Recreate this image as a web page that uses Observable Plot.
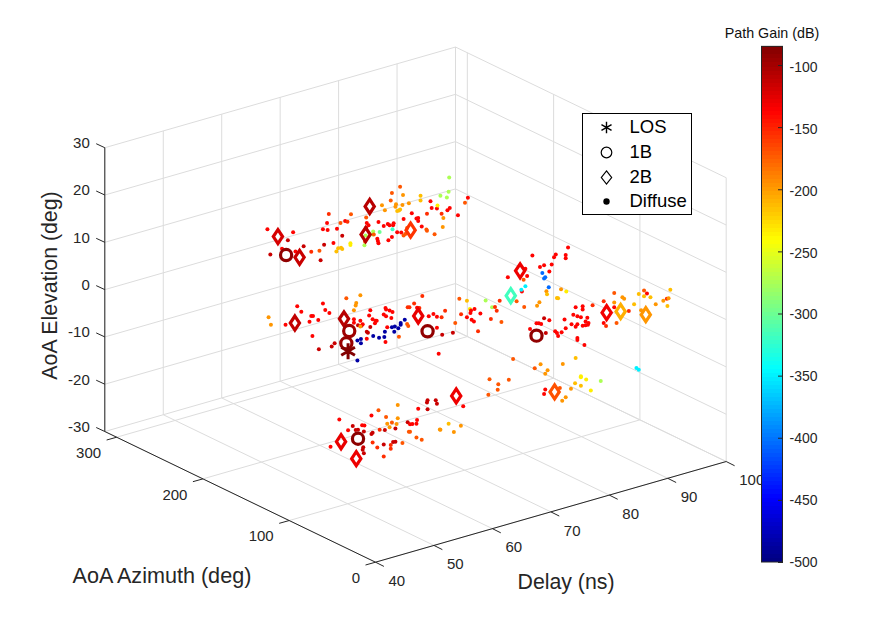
<!DOCTYPE html>
<html>
<head>
<meta charset="utf-8">
<script src="https://cdn.jsdelivr.net/npm/d3@7"></script>
<script src="https://cdn.jsdelivr.net/npm/@observablehq/plot@0.6"></script>
<style>html,body{margin:0;padding:0;background:#fff}svg{display:block}</style>
</head>
<body>
<div id="chart"></div>
<script>
// gain levels (dB)
const D=-115,R=-138,P=-155,Q=-172,O=-198,H=-214,Y=-234,L=-275,G=-300,S=-320,C=-350,B=-405,N=-485;

// each row: delay (ns), elevation (deg), path gain (dB); azimuth estimated per group
const leftAzimuth = 130, rightAzimuth = 60;
const upperStrip = [[40.7,28.7,R],[45.1,26.5,R],[44.2,25.1,D],[41.2,23.2,D],[43.2,23.7,R],[46.9,22.9,D],[45.5,22.3,R],[48.2,21.3,P],[49.6,21.0,Q],[49.8,18.9,D],[50.4,22.0,D],[52.0,21.8,R],[53.5,22.8,D],[52.6,24.6,R],[50.9,26.4,R],[51.2,28.2,P],[50.2,25.3,R],[51.0,24.9,R],[53.2,25.6,Q],[54.0,25.7,R],[54.4,25.4,P],[55.0,26.8,Q],[52.5,19.8,H],[52.8,20.4,H],[53.3,20.3,H],[53.5,20.0,H],[54.9,20.7,Y],[54.9,20.3,Y],[57.6,25.2,Q],[57.7,24.0,R],[58.0,23.4,R],[59.7,23.5,R],[57.6,23.0,R],[57.3,19.4,L],[57.5,21.4,L],[58.8,21.8,L],[58.7,21.2,L],[59.9,21.3,G],[58.9,21.1,Q],[57.4,20.2,Q],[59.5,20.0,R],[59.6,19.5,R],[59.7,19.0,R],[61.4,19.0,R],[62.0,19.5,R],[60.6,22.3,R],[61.3,22.5,R],[62.2,21.9,R],[61.6,22.1,R],[62.3,22.3,R],[62.1,21.1,S],[62.9,20.2,R],[63.6,19.9,R],[64.0,22.6,R],[65.4,23.3,R],[66.2,21.9,R],[66.5,21.3,R],[66.5,21.9,R],[67.1,19.9,R],[68.0,22.3,P],[67.9,19.0,Q],[68.0,18.7,Q],[69.3,17.5,Q],[70.7,18.5,O],[70.8,20.4,O],[70.5,21.4,P],[69.7,22.8,R],[68.8,23.2,R],[68.6,24.7,R],[71.5,21.8,R],[71.9,22.1,R],[73.3,20.1,R],[74.5,22.3,Q],[75.0,23.2,R],[69.8,23.4,Y],[66.9,26.5,H],[66.9,25.5,H],[70.3,25.3,L],[71.4,24.5,L],[71.7,25.6,L],[71.8,28.6,L],[64.9,25.6,O],[63.8,25.6,O],[63.4,29.6,Q],[62.0,28.8,Q],[61.8,27.3,Q],[63.9,27.7,O],[60.3,26.8,O],[60.8,25.6,O],[62.7,26.2,O],[62.6,25.7,O],[63.2,24.7,H],[63.4,24.8,H],[62.9,24.7,H],[64.3,19.3,Q],[64.0,19.1,Q],[64.6,20.5,Q]];
const middleStrip = [[40.9,10.0,O],[41.3,8.3,O],[43.8,7.4,R],[45.8,10.6,R],[46.5,9.2,R],[48.2,7.7,R],[48.5,7.6,R],[47.9,6.6,R],[49.4,6.4,R],[50.2,9.6,R],[50.6,8.1,R],[51.3,7.2,R],[48.4,3.4,R],[49.5,0.2,D],[51.7,0.0,D],[52.2,0.5,D],[54.2,9.3,Q],[56.6,9.1,O],[55.9,7.7,O],[55.8,7.2,O],[55.5,6.3,O],[58.3,5.3,R],[58.1,4.3,R],[55.5,4.4,R],[56.6,3.7,R],[55.5,3.7,R],[56.2,2.9,D],[56.8,2.6,D],[57.0,2.8,R],[56.6,2.5,O],[57.7,1.0,D],[57.9,0.7,D],[58.3,1.8,D],[58.7,3.3,R],[59.2,2.8,R],[59.4,2.7,R],[59.1,2.3,R],[60.6,3.6,R],[61.0,3.1,R],[60.9,4.9,R],[61.0,4.5,R],[61.6,4.1,R],[62.1,3.6,R],[61.9,2.4,R],[61.2,0.7,R],[57.7,-0.5,R],[60.9,-2.3,R],[63.2,-2.0,Q],[64.6,0.2,Q],[64.8,-0.3,Q],[64.7,3.7,P],[65.0,3.6,P],[65.8,4.1,P],[66.3,3.0,R],[66.7,2.8,P],[67.2,5.2,P],[68.3,0.5,R],[69.1,0.7,R],[69.7,-0.1,R],[70.5,-0.5,P],[71.1,0.7,P],[69.7,-2.4,R],[70.6,-4.2,D],[70.0,-8.0,R],
[56.1,-0.3,N],[56.7,-0.2,N],[56.7,-1.1,N],[58.8,-0.3,N],[59.8,-1.0,N],[60.7,-1.2,N],[60.8,-0.1,N],[62.4,-0.7,N],[63.1,-0.2,N],[63.5,0.4,N],[63.5,0.8,N],[64.2,1.2,N],[62.5,0.4,N],[62.0,0.4,N],[56.1,-4.5,N]];
const lowerStrip = [[53.0,-15.9,R],[51.5,-21.1,R],[54.5,-18.7,R],[55.3,-18.1,D],[55.8,-19.1,D],[56.2,-19.2,D],[56.9,-18.5,R],[57.3,-18.7,R],[57.2,-19.9,D],[57.1,-23.2,D],[57.0,-23.7,D],[57.2,-24.5,D],[58.7,-20.7,D],[58.5,-20.9,D],[59.9,-20.5,P],[60.8,-20.9,D],[58.5,-17.0,R],[59.7,-16.3,Q],[61.0,-18.2,Q],[63.0,-16.4,O],[63.0,-19.2,O],[62.8,-20.3,O],[61.2,-19.7,O],[62.0,-19.7,Q],[61.6,-20.6,O],[62.6,-21.2,D],[58.7,-22.8,P],[59.5,-24.1,P],[60.6,-23.9,D],[61.8,-24.4,P],[61.8,-25.2,P],[62.2,-23.9,D],[62.6,-24.0,D],[63.8,-24.7,Q],[60.6,-26.4,P],[65.1,-22.8,Q],[64.9,-22.7,Q],[66.2,-24.4,Q],[67.1,-25.2,Q],[64.7,-20.6,D],[65.1,-21.2,R],[65.5,-21.3,R],[66.2,-21.5,R],[66.3,-20.7,R],[66.5,-18.4,R],[68.1,-19.1,D],[68.1,-17.2,D],[68.0,-17.6,D],[69.5,-17.7,D],[69.7,-18.5,D],[74.2,-20.6,R],[70.2,-24.1,O],[70.3,-24.2,O],[71.7,-23.4,H],[72.6,-25.5,O],[73.8,-24.6,O],[78.5,-19.7,Q],[80.1,-19.2,Q],[80.2,-18.1,Q],[78.7,-16.5,Q],[82.0,-17.8,Q]];
const rightStrip = [[67.7,10.2,L],[68.8,8.4,L],[65.0,9.4,Y],[70.1,9.3,P],[69.3,8.3,P],[69.6,7.4,P],[65.8,9.1,R],[65.2,9.0,R],[65.1,8.5,R],[63.2,12.2,Q],[64.5,11.3,H],[63.5,8.8,P],[64.5,7.8,R],[62.5,7.3,Q],[62.1,5.4,D],[66.8,7.8,R],[65.3,7.0,R],[65.7,6.5,R],[68.6,6.0,P],[70.4,4.7,Q],[66.4,4.2,P],[74.3,6.5,Q],[73.0,8.2,Q],[74.2,12.3,Q],[71.5,13.8,R],[75.7,16.9,R],[77.0,14.0,R],[77.7,14.1,R],[79.0,13.8,R],[78.6,12.5,R],[79.4,15.2,R],[79.7,15.7,R],[81.4,15.0,R],[81.4,14.3,R],[81.8,16.4,R],[74.5,14.5,R],[74.8,12.9,R],[73.9,9.9,R],[73.8,10.3,C],[74.5,10.8,C],[77.4,12.6,B],[77.7,11.3,B],[77.9,11.5,B],[78.5,9.2,B],[80.6,8.0,O],[81.5,7.2,Y],[78.1,8.5,O],[78.2,7.8,H],[76.9,6.6,O],[76.5,6.0,O],[79.9,6.4,H],[80.1,6.3,H],
[83.1,3.3,R],[84.3,3.1,R],[84.3,2.4,R],[82.7,1.9,R],[83.4,1.3,R],[84.0,0.9,R],[85.1,0.4,R],[81.2,1.4,R],[84.8,-0.3,R],[82.4,0.0,R],[83.1,-0.8,R],[83.4,-0.4,R],[84.3,-1.0,R],[84.8,-1.1,R],[85.2,-1.1,R],[85.3,-0.8,R],[81.4,-0.5,R],[80.7,-1.1,R],[79.6,-0.5,R],[79.9,-1.0,R],[80.1,-1.7,R],[83.4,-3.3,R],[83.4,-3.7,R],[84.6,-5.2,R],[75.3,1.5,R],[76.4,2.3,R],[76.8,2.2,R],[77.2,1.9,R],[77.7,2.9,D],[78.6,2.2,R],[78.0,-0.3,D],[86.0,2.7,P],[87.9,2.9,P],[89.7,2.0,O],[89.7,4.0,Q],[91.1,2.6,O],[91.4,2.2,O],[93.1,0.4,H],[92.2,-0.7,P],[93.9,2.3,H],[94.8,2.7,Q],[95.3,1.9,R],[94.8,1.5,H],[95.9,0.9,H],[96.8,-0.9,O],[98.1,-0.6,O],[98.7,-0.4,P],[99.0,-0.4,O],[98.8,-2.0,H],[99.3,1.3,H],[94.3,-1.3,O],[87.9,-1.7,R],[88.3,-2.5,P],[90.1,-2.5,Q],[89.7,1.0,R],
[72.4,-3.8,Q],[76.1,-7.1,Q],[77.1,-6.6,O],[78.3,-8.3,O],[77.9,-8.9,O],[80.9,-7.9,O],[83.1,-7.4,H],[84.0,-11.6,Y],[84.0,-11.8,Y],[84.9,-12.6,Y],[83.0,-12.7,H],[84.0,-13.6,H],[85.7,-15.2,Y],[87.4,-13.8,L],[93.5,-13.2,C],[93.9,-13.7,C],[77.9,-12.2,R],[77.7,-13.1,R],[82.3,-13.6,O],[80.4,-12.8,Q],[81.4,-15.1,O],[80.8,-15.6,O]];

// dominant paths: delay, azimuth, elevation, gain
const losPaths = [[54.5,130,-2.0,-86]];
const oneBouncePaths = [[43.9,130,22.1,-92],[54.7,130,2.2,-98],[54.2,130,-0.2,-95],[68.1,130,-2.6,-92],[56.2,130,-21.1,-90],[76.4,60,-0.3,-92]];
const twoBouncePaths = [[42.5,130,26.5,-120],[46.2,130,20.8,-115],[58.2,130,27.3,-108],[57.5,130,21.6,-108],[65.2,130,19.8,-158],[45.4,130,7.2,-112],[53.8,130,5.1,-108],[66.5,130,1.2,-128],[53.3,130,-20.7,-128],[55.9,130,-25.2,-130],[73.0,130,-18.0,-130],[73.6,60,14.4,-130],[72.0,60,9.7,-318],[88.4,60,0.3,-132],[90.8,60,-0.3,-208],[95.1,60,-2.5,-198],[79.5,60,-13.3,-170]];

const delayTicks = [40,50,60,70,80,90,100];
const azimuthTicks = [0,100,200,300];
const elevationTicks = [-30,-20,-10,0,10,20,30];
const gainTicks = [-100,-150,-200,-250,-300,-350,-400,-450,-500];
const legendItems = ["LOS","1B","2B","Diffuse"];

// view geometry of the 3-D box
const azMax = 313.7, gainMin = -500, gainMax = -85;
const project = (delay, az, el) => ({
  x: 375 + (delay - 40) * 5.845 - az * 0.8629,
  y: 561.7 - (delay - 40) * 1.678 - az * 0.4166 - (el + 30) * 4.73
});
const gainY = g => 65 + (-100 - g) * 1.2425;
const clamp = v => Math.max(0, Math.min(1, v));
const jet = t => `rgb(${Math.round(255*clamp(1.5-Math.abs(4*t-3)))},${Math.round(255*clamp(1.5-Math.abs(4*t-2)))},${Math.round(255*clamp(1.5-Math.abs(4*t-1)))})`;

// rhombus marker wider than the stock "diamond": r is its half height
const rhombus = ratio => ({
  draw(ctx, size) {
    const h = Math.sqrt(size / Math.PI), w = h * ratio;
    ctx.moveTo(0, -h); ctx.lineTo(w, 0); ctx.lineTo(0, h); ctx.lineTo(-w, 0); ctx.closePath();
  }
});

const diffuse = [
  ...upperStrip.map(r => [r[0], leftAzimuth, r[1], r[2]]),
  ...middleStrip.map(r => [r[0], leftAzimuth, r[1], r[2]]),
  ...lowerStrip.map(r => [r[0], leftAzimuth, r[1], r[2]]),
  ...rightStrip.map(r => [r[0], rightAzimuth, r[1], r[2]])
];
const px = r => project(r[0], r[1], r[2]).x;
const py = r => project(r[0], r[1], r[2]).y;

// grid segments as pairs of 3-D ends
const seg = (a, b) => ({a, b});
const azGridTicks = [...azimuthTicks, azMax];
const grid = [
  ...elevationTicks.map(e => seg([40,azMax,e],[100,azMax,e])),
  ...elevationTicks.map(e => seg([100,0,e],[100,azMax,e])),
  ...delayTicks.map(d => seg([d,azMax,-30],[d,azMax,30])),
  ...azGridTicks.map(a => seg([100,a,-30],[100,a,30])),
  ...azimuthTicks.map(a => seg([40,a,-30],[100,a,-30])),
  ...delayTicks.map(d => seg([d,0,-30],[d,azMax,-30]))
];
const segLink = (list, opts) => Plot.link(list, {
  x1: s => px(s.a), y1: s => py(s.a), x2: s => px(s.b), y2: s => py(s.b), ...opts
});
const axes = [
  seg([40,azMax,-30],[40,azMax,30]),
  seg([40,azMax,-30],[40,0,-30]),
  seg([40,0,-30],[100,0,-30])
];
const ink = "#262626", font = "Liberation Sans, Arial, sans-serif";
const step = (gainMax - gainMin) / 128;
const bands = d3.range(128).map(i => gainMin + i * step);
const lx = 606, tx = 629, rowY = [127, 152, 177, 201];

const chart = Plot.plot({
  width: 887, height: 632,
  margin: 0,
  x: {domain: [0, 887], range: [0, 887], axis: null},
  y: {domain: [0, 632], range: [0, 632], axis: null},
  color: {type: "linear", domain: [gainMin, gainMax], interpolate: jet},
  style: {background: "#fff", fontFamily: font},
  marks: [
    segLink(grid, {stroke: "#dcdcdc", strokeWidth: 1}),
    segLink(axes, {stroke: ink, strokeWidth: 1}),
    // elevation axis
    Plot.link(elevationTicks, {x1: e => project(40,azMax,e).x, y1: e => project(40,azMax,e).y,
      x2: e => project(40,azMax,e).x - 8.6, y2: e => project(40,azMax,e).y - 4, stroke: ink}),
    Plot.text(elevationTicks, {x: e => project(40,azMax,e).x - 15, y: e => project(40,azMax,e).y - 4.5,
      text: e => String(e), textAnchor: "end", fontSize: 15, fill: ink}),
    // azimuth axis
    Plot.link(azimuthTicks, {x1: a => project(40,a,-30).x, y1: a => project(40,a,-30).y,
      x2: a => project(40,a,-30).x - 10, y2: a => project(40,a,-30).y + 2.8, stroke: ink}),
    Plot.text(azimuthTicks, {x: a => project(40,a,-30).x - 15.5, y: a => project(40,a,-30).y + 16,
      text: a => String(a), textAnchor: "end", fontSize: 15, fill: ink}),
    // delay axis
    Plot.link(delayTicks, {x1: d => project(d,0,-30).x, y1: d => project(d,0,-30).y,
      x2: d => project(d,0,-30).x + 8.4, y2: d => project(d,0,-30).y + 4.2, stroke: ink}),
    Plot.text(delayTicks, {x: d => project(d,0,-30).x + 13, y: d => project(d,0,-30).y + 19,
      text: d => String(d), textAnchor: "start", fontSize: 15, fill: ink}),
    // axis titles
    Plot.text(["AoA Elevation (deg)"], {x: [50], y: [285], text: d => d, rotate: -90, fontSize: 21.3, fill: ink}),
    Plot.text(["AoA Azimuth (deg)"], {x: [72], y: [576], text: d => d, textAnchor: "start", fontSize: 21.6, fill: ink}),
    Plot.text(["Delay (ns)"], {x: [517], y: [582], text: d => d, textAnchor: "start", fontSize: 21.3, fill: ink}),
    // paths
    Plot.dot(diffuse, {x: px, y: py, r: 2, fill: r => r[3]}),
    Plot.dot(twoBouncePaths, {x: px, y: py, symbol: rhombus(0.66), r: 7, stroke: r => r[3], fill: "none", strokeWidth: 3.2}),
    Plot.dot(oneBouncePaths, {x: px, y: py, symbol: "circle", r: 5.6, stroke: r => r[3], fill: "none", strokeWidth: 3.2}),
    Plot.dot(losPaths, {x: px, y: py, symbol: "asterisk", r: 7.5, stroke: r => r[3], fill: "none", strokeWidth: 3}),
    // legend
    Plot.rect([0], {x1: 582.5, x2: 691.5, y1: 113.5, y2: 214.5, fill: "#fff", stroke: "#000", strokeWidth: 1}),
    Plot.dot([0], {x: lx, y: rowY[0], symbol: "asterisk", r: 5.5, stroke: "#000", fill: "none", strokeWidth: 1.4}),
    Plot.dot([0], {x: lx, y: rowY[1], symbol: "circle", r: 5.3, stroke: "#000", fill: "none", strokeWidth: 1.2}),
    Plot.dot([0], {x: lx, y: rowY[2], symbol: rhombus(0.78), r: 6.6, stroke: "#000", fill: "none", strokeWidth: 1.2}),
    Plot.dot([0], {x: lx, y: rowY[3], r: 3.2, fill: "#000"}),
    Plot.text(legendItems, {x: tx, y: (d, i) => rowY[i], text: d => d, textAnchor: "start", fontSize: 18.5, fill: "#000"}),
    // colour bar
    Plot.rect(bands, {x1: 761.5, x2: 782.5, y1: g => gainY(g), y2: g => gainY(g + step), fill: g => g + step / 2, shapeRendering: "crispEdges"}),
    Plot.rect([0], {x1: 761.5, x2: 782.5, y1: gainY(gainMax), y2: gainY(gainMin), fill: "none", stroke: ink, strokeWidth: 1}),
    Plot.link(gainTicks, {x1: 782.5, x2: 777.5, y1: gainY, y2: gainY, stroke: ink}),
    Plot.text(gainTicks, {x: 789, y: g => gainY(g) + (g + 500) / 400 * 2, text: g => String(g), textAnchor: "start", fontSize: 14, fill: ink}),
    Plot.text(["Path Gain (dB)"], {x: [771.5], y: [33], text: d => d, fontSize: 14.3, fill: "#111"})
  ]
});
document.getElementById("chart").appendChild(chart);
</script>
</body>
</html>
